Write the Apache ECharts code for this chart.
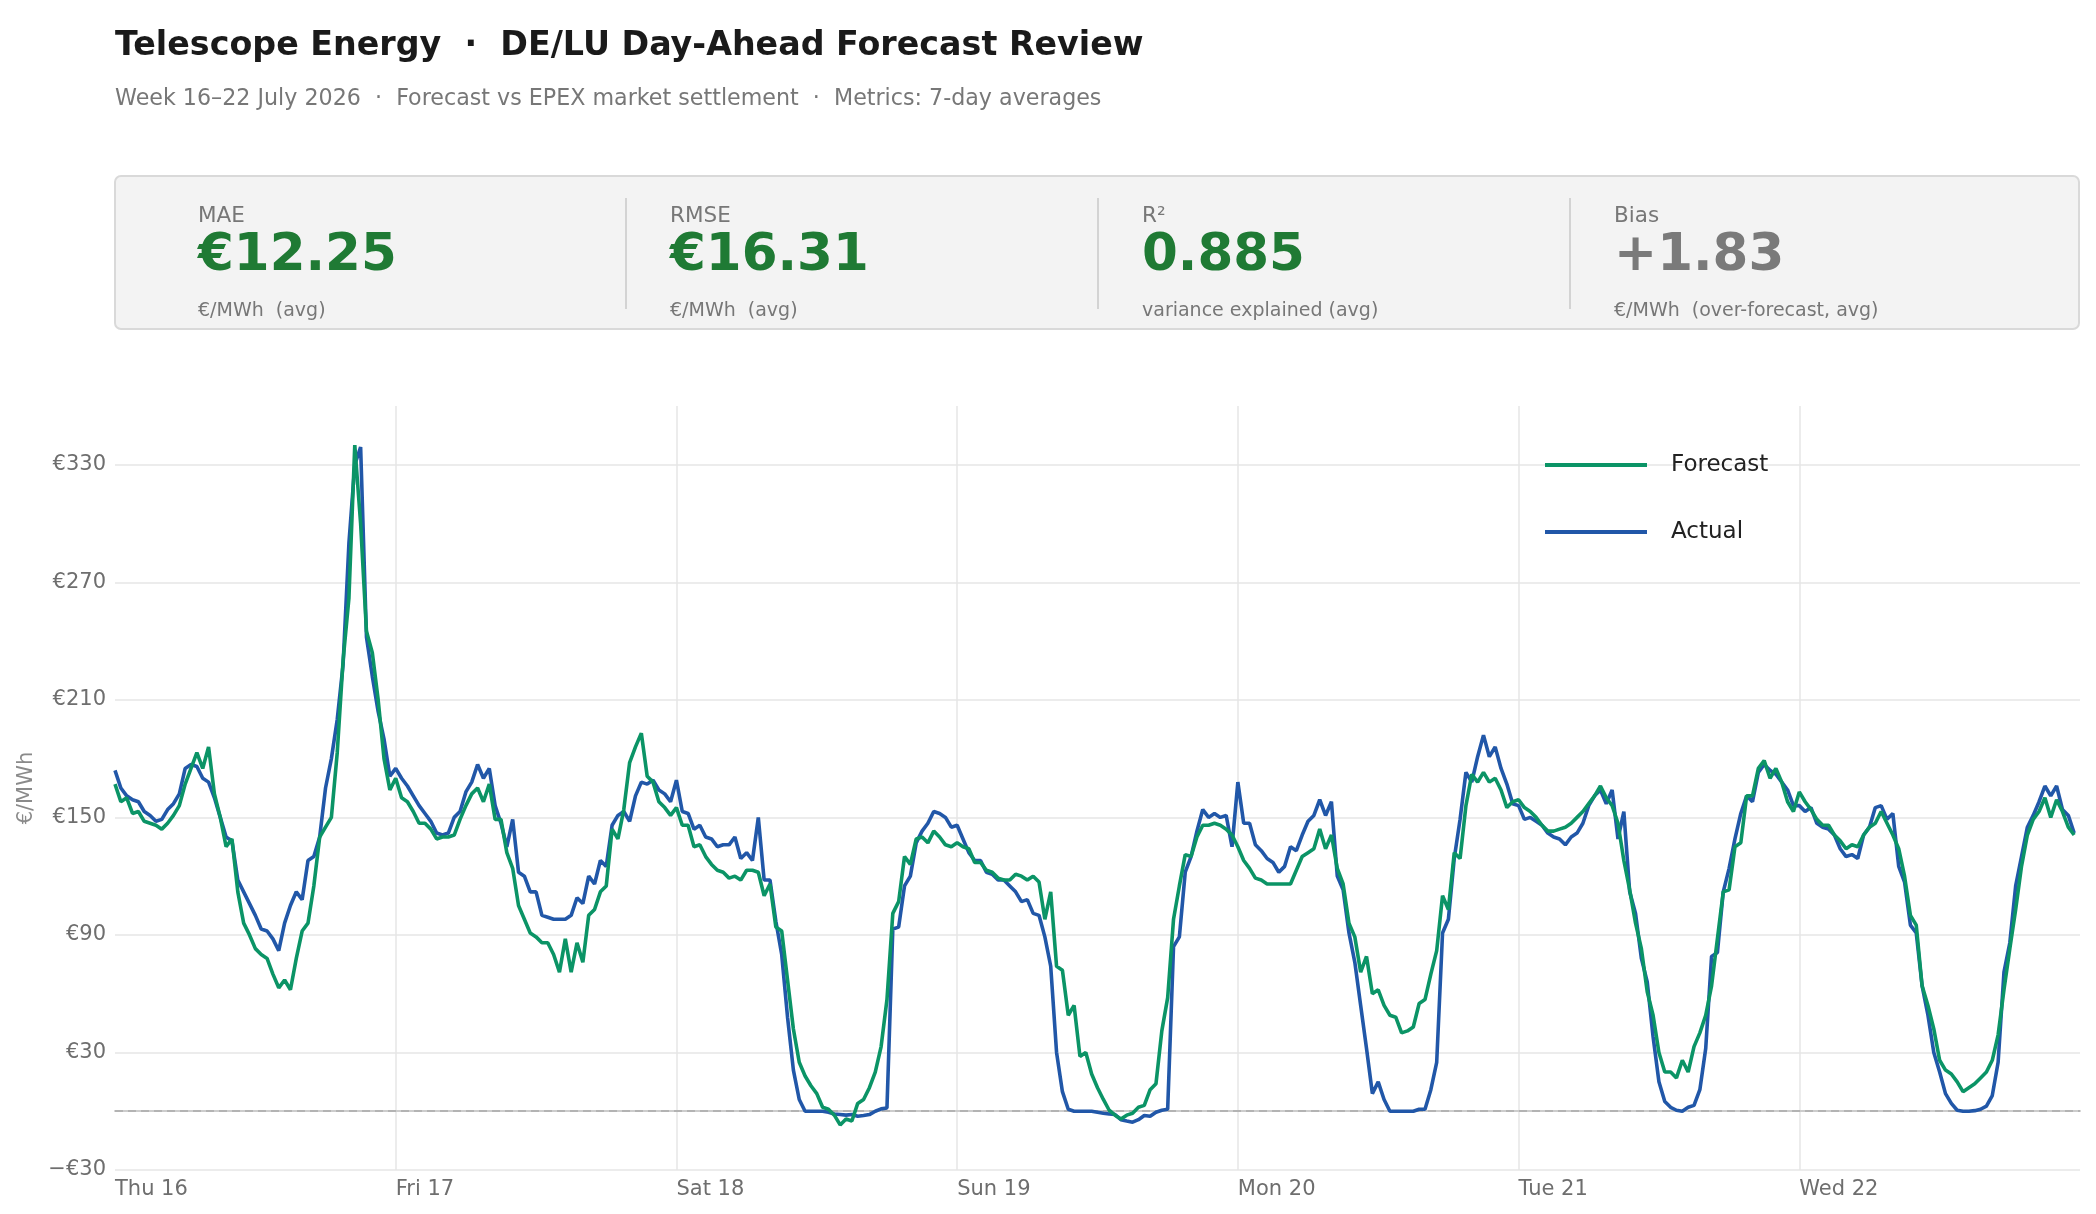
<!DOCTYPE html>
<html><head><meta charset="utf-8">
<script src="https://cdn.jsdelivr.net/npm/echarts@6/dist/echarts.min.js"></script>
<style>html,body{margin:0;padding:0;background:#fff}#c{width:2096px;height:1214px}</style>
</head><body><div id="c"></div>
<script>
// ---- labels ----
const dayLabels = ['Thu 16','Fri 17','Sat 18','Sun 19','Mon 20','Tue 21','Wed 22'];
const titleText = 'Telescope Energy  ·  DE/LU Day-Ahead Forecast Review';
const subtitleText = 'Week 16\u201322 July 2026  ·  Forecast vs EPEX market settlement  ·  Metrics: 7-day averages';
const kpiLabels = ['MAE','RMSE','R\u00B2','Bias'];
const kpiValues = ['\u20AC12.25','\u20AC16.31','0.885','+1.83'];
const kpiNotes = ['\u20AC/MWh  (avg)','\u20AC/MWh  (avg)','variance explained (avg)','\u20AC/MWh  (over-forecast, avg)'];

// ---- half-hourly prices, €/MWh (48 per day) ----
const forecastThu = [167,158,160,152,153,148,147,146,144,147,151,156,167,175,183,175,186,162,150,135,139,112,96,90,83,80,78,70,63,67,62,78,92,96,115,140,145,150,183,230,262,340,300,245,234,210,180,164];
const actualThu   = [174,165,161,159,158,153,151,148,149,154,157,162,175,177,176,170,168,160,150,140,138,118,112,106,100,93,92,88,82,96,105,112,108,128,130,140,165,180,200,228,290,330,339,242,222,204,190,171];
const forecastFri = [170,160,158,153,147,147,144,139,140,140,141,149,156,162,165,158,167,149,149,132,124,105,98,91,89,86,86,80,71,88,71,86,76,100,103,112,115,144,139,154,178,186,193,171,168,158,155,151];
const actualFri   = [175,170,166,161,156,152,148,142,141,142,150,153,163,168,177,170,175,156,147,135,149,122,120,112,112,100,99,98,98,98,100,109,106,120,116,128,125,146,151,153,148,161,168,167,169,164,162,158];
const forecastSat = [155,146,146,135,136,130,126,123,122,119,120,118,123,123,122,110,116,94,92,67,42,25,18,13,9,2,1,-2,-7,-4,-5,4,6,12,20,33,57,101,107,130,126,139,140,137,143,140,136,135];
const actualSat   = [169,153,152,144,146,140,139,135,136,136,140,129,132,128,150,118,118,97,80,48,21,6,0,0,0,0,-0.5,-1.4,-1.7,-2,-1.7,-2.6,-2.2,-1.7,0,1.2,1.7,93,94,115,120,137,143,147,153,152,150,145];
const forecastSun = [137,135,134,127,127,123,122,119,118,118,121,120,118,120,117,98,112,74,72,49,54,28,30,19,12,6,0.5,-2,-4,-2,-1,2,3,11,14,41,58,98,115,131,130,140,146,146,147,146,144,141];
const actualSun   = [146,139,132,128,128,122,121,118,118,115,112,107,108,101,100,89,74,30,10,1,0,0,0,0,-0.5,-1,-1.4,-1.7,-4.3,-5,-5.6,-4.3,-2.2,-2.6,-0.5,0.5,1,84,89,122,130,143,154,150,152,150,151,135];
const forecastMon = [135,128,124,119,118,116,116,116,116,116,123,130,132,134,144,134,141,124,116,96,89,71,79,60,62,54,49,48,40,41,43,55,57,70,82,110,103,132,129,156,172,168,173,168,170,164,155,158];
const actualMon   = [168,147,147,136,133,129,127,122,125,135,133,141,148,151,159,151,158,120,113,91,76,54,32,9,15,6,0,0,0,0,0,1,1,11,25,91,98,129,149,173,168,181,192,181,186,175,167,157];
const forecastTue = [159,155,153,150,146,143,143,144,145,147,150,153,157,161,166,160,156,147,128,113,96,83,61,49,30,20,20,17,26,20,33,40,49,64,88,112,113,135,137,161,161,175,179,170,175,168,158,153];
const actualTue   = [156,149,150,148,146,142,140,139,136,140,142,147,156,161,164,157,164,139,153,112,101,78,66,38,15,5,2,0.5,0,2,3,11,32,79,81,112,124,139,152,161,158,173,177,174,172,168,164,156];
const forecastWed = [163,158,154,149,146,146,141,138,134,136,135,141,145,147,153,147,141,134,120,100,95,64,54,42,26,21,19,15,10,12,14,17,20,26,39,62,83,103,125,141,149,153,160,150,159,153,145,141];
const actualWed   = [156,153,155,147,145,144,141,134,130,131,129,141,145,155,156,149,152,125,117,95,91,64,49,30,20,9,4,0.5,0,0,0.3,1,2.6,8,25,71,86,115,130,145,151,158,166,161,166,154,151,142];

const forecastDays = [forecastThu, forecastFri, forecastSat, forecastSun, forecastMon, forecastTue, forecastWed];
const actualDays = [actualThu, actualFri, actualSat, actualSun, actualMon, actualTue, actualWed];

function toSeries(days) {
  const out = [];
  days.forEach((arr, d) => arr.forEach((v, i) => out.push([d * 24 + i * 0.5, v])));
  return out;
}

const FONT = 'DejaVu Sans';
const GREEN = '#0b9466';
const BLUE = '#2157a8';
const KPI_GREEN = '#1f7a34';
const kpiColors = [KPI_GREEN, KPI_GREEN, KPI_GREEN, '#7a7a7a'];
const kpiX = [198, 670, 1142, 1614];
const dividerX = [626, 1098, 1570];

const graphics = [
  {type:'text', x:115, y:46, style:{text:titleText, fontFamily:FONT, fontSize:33.3, fontWeight:'bold', fill:'#1a1a1a', verticalAlign:'middle'}},
  {type:'text', x:115, y:99, style:{text:subtitleText, fontFamily:FONT, fontSize:22.2, fill:'#777777', verticalAlign:'middle'}},
  {type:'rect', shape:{x:115, y:176, width:1964, height:153, r:6}, style:{fill:'#f3f3f3', stroke:'#d9d9d9', lineWidth:2}}
];
dividerX.forEach(x => graphics.push({type:'line', shape:{x1:x, y1:198, x2:x, y2:309}, style:{stroke:'#d3d3d3', lineWidth:2}}));
kpiLabels.forEach((lab, k) => {
  graphics.push({type:'text', x:kpiX[k], y:216, style:{text:lab, fontFamily:FONT, fontSize:21.5, fill:'#777777', verticalAlign:'middle'}});
  graphics.push({type:'text', x:kpiX[k], y:257, style:{text:kpiValues[k], fontFamily:FONT, fontSize:51.5, fontWeight:'bold', fill:kpiColors[k], verticalAlign:'middle'}});
  graphics.push({type:'text', x:kpiX[k], y:311, style:{text:kpiNotes[k], fontFamily:FONT, fontSize:19, fill:'#777777', verticalAlign:'middle'}});
});

const chart = echarts.init(document.getElementById('c'), null, {renderer:'canvas'});
chart.setOption({
  animation:false,
  backgroundColor:'#ffffff',
  textStyle:{fontFamily:FONT},
  graphic:graphics,
  grid:{left:115, right:16, top:406, bottom:44, containLabel:false},
  legend:{
    data:['Forecast','Actual'], orient:'vertical', left:1545, top:452, padding:0,
    icon:'rect', itemWidth:102, itemHeight:4, itemGap:41,
    textStyle:{fontFamily:FONT, fontSize:23, color:'#222222', lineHeight:26, padding:[0,0,0,19]}
  },
  xAxis:{
    type:'value', min:0, max:168, interval:24,
    axisLine:{show:true, lineStyle:{color:'#cccccc', width:2}},
    axisTick:{show:false},
    splitLine:{show:true, showMinLine:false, showMaxLine:false, lineStyle:{color:'#e6e6e6', width:1.5}},
    axisLabel:{show:true, showMaxLabel:false, align:'left', margin:9, fontFamily:FONT, fontSize:21, color:'#6e6e6e',
      formatter:v => dayLabels[Math.round(v/24)] || ''}
  },
  yAxis:{
    type:'value', min:-30, max:360, interval:60,
    name:'\u20AC/MWh', nameLocation:'middle', nameRotate:90, nameGap:78,
    nameTextStyle:{fontFamily:FONT, fontSize:21, color:'#8a8a8a'},
    axisLine:{show:false}, axisTick:{show:false},
    splitLine:{show:true, showMaxLine:false, lineStyle:{color:'#e6e6e6', width:1.5}},
    axisLabel:{showMaxLabel:false, margin:9, fontFamily:FONT, fontSize:21, color:'#6e6e6e',
      formatter:v => v < 0 ? '\u2212\u20AC' + (-v) : '\u20AC' + v}
  },
  series:[
    {name:'Actual', type:'line', data:toSeries(actualDays), symbol:'none', showSymbol:false,
     lineStyle:{width:3.6, color:BLUE}, itemStyle:{color:BLUE}, z:2,
     markLine:{silent:true, symbol:['none','none'], label:{show:false},
       lineStyle:{color:'#aaaaaa', type:[8,5], width:1.6}, data:[{yAxis:0}], z:1}},
    {name:'Forecast', type:'line', data:toSeries(forecastDays), symbol:'none', showSymbol:false,
     lineStyle:{width:3.6, color:GREEN}, itemStyle:{color:GREEN}, z:3}
  ]
});
</script></body></html>
